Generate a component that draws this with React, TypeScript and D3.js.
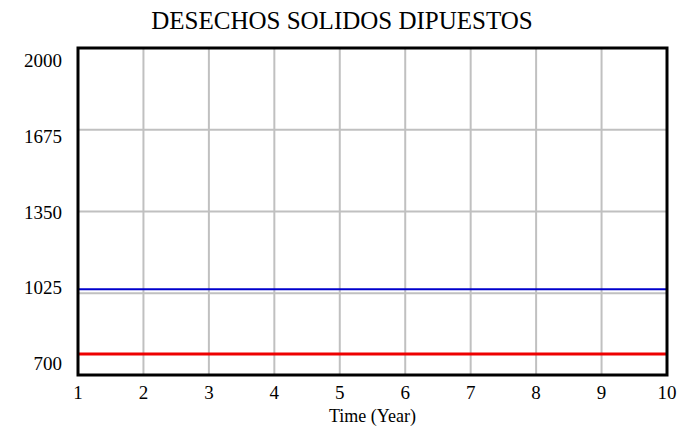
import React from 'react';
import * as d3 from 'd3';

const title = 'DESECHOS SOLIDOS DIPUESTOS';
const xLabel = 'Time (Year)';
const years = [1, 2, 3, 4, 5, 6, 7, 8, 9, 10];
const yTicks = [700, 1025, 1350, 1675, 2000];
const blueSeries = [1041, 1041, 1041, 1041, 1041, 1041, 1041, 1041, 1041, 1041];
const redSeries = [783, 783, 783, 783, 783, 783, 783, 783, 783, 783];

const W = 698;
const H = 433;
const margin = { left: 78, right: 31, top: 48, bottom: 58 };
const font = '"Liberation Serif", "Times New Roman", serif';

export default function App() {
  const x = d3.scaleLinear().domain([1, 10]).range([margin.left, W - margin.right]);
  const y = d3.scaleLinear().domain([700, 2000]).range([H - margin.bottom, margin.top]);
  // tick labels sit inside the axis span, Vensim style
  const yLab = d3.scaleLinear().domain([700, 2000]).range([370, 67]);

  const line = d3.line<number>()
    .x((_, i) => x(years[i]))
    .y(d => y(d));

  return (
    <svg width={W} height={H} style={{ position: 'absolute', left: 0, top: 0, background: '#fff' }}>
      <text x={342} y={29} textAnchor="middle" fontFamily={font} fontSize={25}>{title}</text>

      {/* grid */}
      {years.map(v => (
        <line key={'gx' + v} x1={x(v)} x2={x(v)} y1={y(2000)} y2={y(700)} stroke="#c0c0c0" strokeWidth={2} />
      ))}
      {yTicks.map(v => (
        <line key={'gy' + v} x1={x(1)} x2={x(10)} y1={y(v)} y2={y(v)} stroke="#c0c0c0" strokeWidth={2} />
      ))}

      <path d={line(blueSeries) || ''} fill="none" stroke="#0000cc" strokeWidth={2} />
      <path d={line(redSeries) || ''} fill="none" stroke="#ee0000" strokeWidth={3} />

      <rect x={x(1)} y={y(2000)} width={x(10) - x(1)} height={y(700) - y(2000)} fill="none" stroke="#000" strokeWidth={3} />

      {yTicks.map(v => (
        <text key={'ty' + v} x={62} y={yLab(v)} textAnchor="end" fontFamily={font} fontSize={19}>{v}</text>
      ))}
      {years.map(v => (
        <text key={'tx' + v} x={x(v)} y={399} textAnchor="middle" fontFamily={font} fontSize={19}>{v}</text>
      ))}
      <text x={(x(1) + x(10)) / 2} y={422} textAnchor="middle" fontFamily={font} fontSize={18}>{xLabel}</text>
    </svg>
  );
}
